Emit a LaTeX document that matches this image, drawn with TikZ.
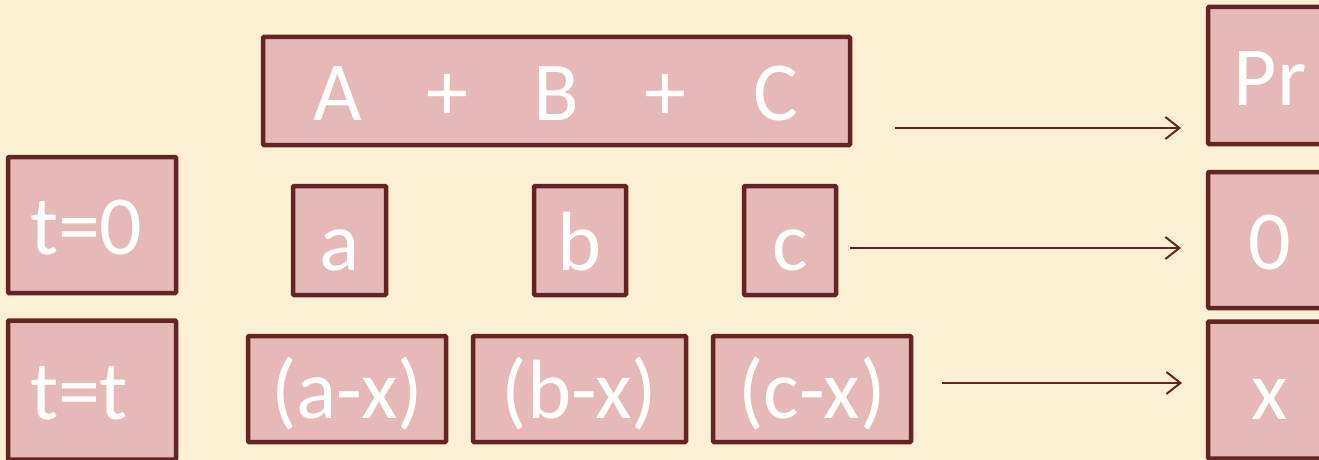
\documentclass[tikz,border=0pt]{standalone}
\usepackage{fontspec}
\setmainfont{Carlito}
\usetikzlibrary{arrows.meta}
\definecolor{bg}{HTML}{FBF0D4}
\definecolor{boxfill}{HTML}{E6B8B7}
\definecolor{boxline}{HTML}{632523}
\tikzset{
  cell/.style={draw=boxline, fill=boxfill, line width=4.5pt, rounded corners=1pt,
    text=white, font=\fontsize{84}{92}\selectfont, inner sep=0pt,
    text height=59pt, text depth=0pt, align=center},
  lcell/.style={cell, align=left, text width=124pt, inner xsep=22pt},
  conn/.style={draw=boxline, line width=2pt, -{Straight Barb[length=14pt,width=22pt,line width=2pt]}}
}
\begin{document}
\begin{tikzpicture}[x=1pt,y=-1pt]
\fill[bg] (0,0) rectangle (1319,460);
\useasboundingbox (0,0) rectangle (1319,460);
\begin{scope}
\clip (0,0) rectangle (1319,460);
\node[cell, minimum width=587pt, minimum height=108pt] (abc) at (556.5,91)
  {\makebox[110pt]{A}\makebox[110pt]{+}\makebox[108pt]{B}\makebox[110pt]{+}\makebox[110pt]{C}};
\node[lcell, minimum height=136pt] (t0) at (92,225) {t=0};
\node[lcell, minimum height=139pt] (tt) at (92,390) {t=t};
\node[cell, minimum width=93pt, minimum height=109pt] (a) at (339.5,240.5) {a};
\node[cell, minimum width=92pt, minimum height=109pt] (b) at (580,240.5) {b};
\node[cell, minimum width=92pt, minimum height=109pt] (c) at (790,240.5) {c};
\node[cell, minimum width=198pt, minimum height=106pt] (ax) at (347,389) {(a-x)};
\node[cell, minimum width=213pt, minimum height=106pt] (bx) at (579.5,389) {(b-x)};
\node[cell, minimum width=198pt, minimum height=106pt] (cx) at (812,389) {(c-x)};
\node[cell, minimum width=124pt, minimum height=137pt] (pr) at (1270,75.5) {Pr};
\node[cell, minimum width=124pt, minimum height=136pt] (p0) at (1270,240) {0};
\node[cell, minimum width=124pt, minimum height=137pt] (px) at (1270,390) {x};
\end{scope}
\coordinate (r1s) at (895,128);
\coordinate (r1e) at (1181,128);
\coordinate (r2s) at (850,248);
\coordinate (r2e) at (1181,248);
\coordinate (r3s) at (942,383);
\coordinate (r3e) at (1182,383);
\draw[conn] (r1s) -- (r1e);
\draw[conn] (r2s) -- (r2e);
\draw[conn] (r3s) -- (r3e);
\end{tikzpicture}
\end{document}
